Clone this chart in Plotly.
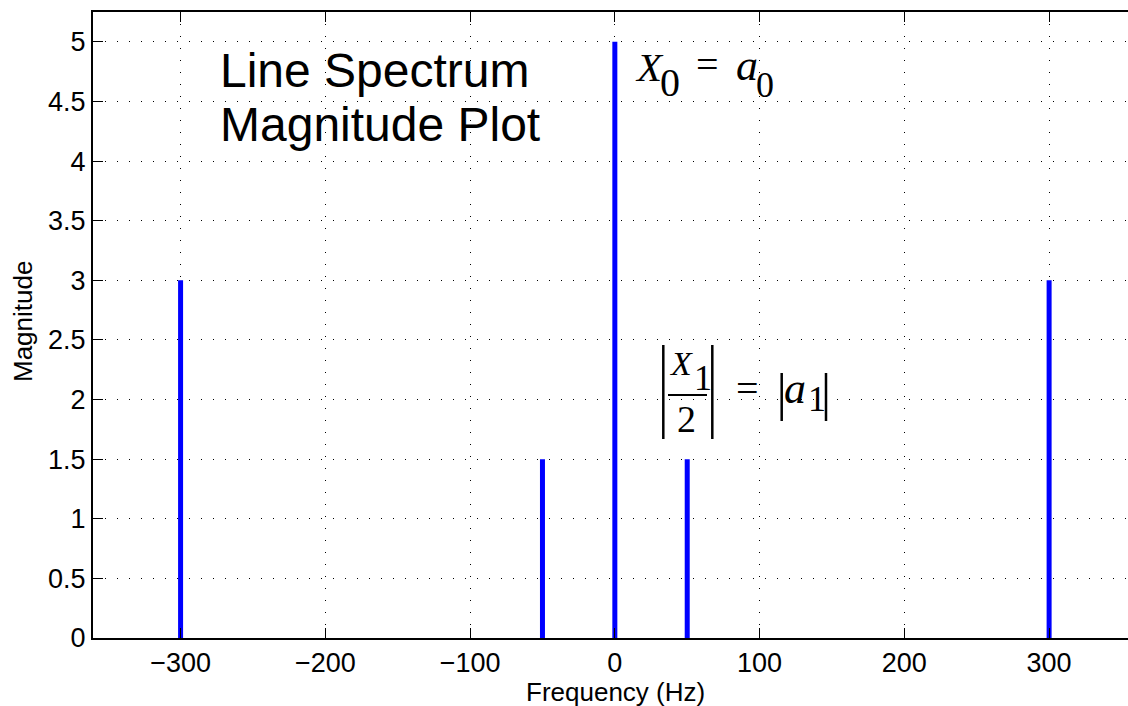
import plotly.graph_objects as go

# ---- data ----
freqs = [-300, -50, 0, 50, 300]
mags = [3, 1.5, 5, 1.5, 3]
x_ticks = [-300, -200, -100, 0, 100, 200, 300]
y_ticks = [0, 0.5, 1, 1.5, 2, 2.5, 3, 3.5, 4, 4.5, 5]
y_tick_text = ["0", "0.5", "1", "1.5", "2", "2.5", "3", "3.5", "4", "4.5", "5"]
x_label = "Frequency (Hz)"
y_label = "Magnitude"
title_lines = ["Line Spectrum", "Magnitude Plot"]

W, H = 1128, 706
L, R, T, B = 93, 0, 12, 68
PW, PH = W - L - R, H - T - B


def px(x):
    return (x - L) / PW


def py(y):
    return (H - B - y) / PH


sx, sy = [], []
for f, m in zip(freqs, mags):
    sx += [f, f, None]
    sy += [0, m, None]

fig = go.Figure()
fig.add_trace(go.Scatter(x=sx, y=sy, mode="lines",
                         line=dict(color="#0000FF", width=5),
                         hoverinfo="skip", showlegend=False))

sans = "Liberation Sans, Arial, Helvetica, sans-serif"
serif = "Liberation Serif, Times New Roman, serif"

ann = []


def txt(t, x, y, size, family=sans, xa="center", ya="middle", angle=0):
    ann.append(dict(text=t, x=px(x), y=py(y), xref="paper", yref="paper",
                    xanchor=xa, yanchor=ya, showarrow=False, textangle=angle,
                    font=dict(family=family, size=size, color="black")))


# title
txt(title_lines[0], 218, 70.8, 48, xa="left")
txt(title_lines[1], 218, 124.5, 48, xa="left")
# axis labels
txt(x_label, 615, 692, 26)
txt(y_label, 23, 322, 26, angle=-90)

# X0 = a0
txt("<i>X</i>", 649, 66.5, 41, family=serif)
txt("0", 670, 82, 40, family=serif)
txt("=", 707, 64.4, 40, family=serif)
txt("<i>a</i>", 747, 65, 44, family=serif)
txt("0", 765, 85, 36, family=serif)

# |X1/2| = |a1|
txt("<i>X</i>", 681, 363, 34, family=serif)
txt("1", 702.5, 377.5, 36, family=serif)
txt("2", 686.5, 419.5, 38, family=serif)
txt("=", 747.5, 388.4, 40, family=serif)
txt("<i>a</i>", 795, 388, 44, family=serif)
txt("1", 816.5, 399, 36, family=serif)

shapes = []


def seg(x0, y0, x1, y1, w):
    shapes.append(dict(type="line", xref="paper", yref="paper",
                       x0=px(x0), y0=py(y0), x1=px(x1), y1=py(y1),
                       line=dict(color="black", width=w)))


seg(663.3, 345, 663.3, 439, 2.5)
seg(712.3, 345, 712.3, 439, 2.5)
seg(668, 395, 707, 395, 2)
seg(781.7, 373, 781.7, 421, 2.5)
seg(826, 373, 826, 421, 2.5)

grid = dict(showgrid=True, gridcolor="black", gridwidth=1, griddash="1px,11px")

fig.update_layout(
    width=W, height=H,
    margin=dict(l=L, r=R, t=T, b=B, pad=0),
    paper_bgcolor="white", plot_bgcolor="white",
    annotations=ann, shapes=shapes,
    showlegend=False,
    xaxis=dict(range=[-360.5, 354.5], tickvals=x_ticks, ticks="inside", ticklen=10,
               tickwidth=1, tickcolor="black", showline=True, linecolor="black",
               linewidth=2, mirror="ticks", zeroline=False,
               tickfont=dict(family=sans, size=27, color="black"), **grid),
    yaxis=dict(range=[0, 5.25], tickvals=y_ticks, ticktext=y_tick_text,
               ticks="inside", ticklen=10, tickwidth=1, tickcolor="black",
               showline=True, linecolor="black", linewidth=2, zeroline=False,
               tickfont=dict(family=sans, size=27, color="black"), **grid),
)

fig.write_html("out.html")
